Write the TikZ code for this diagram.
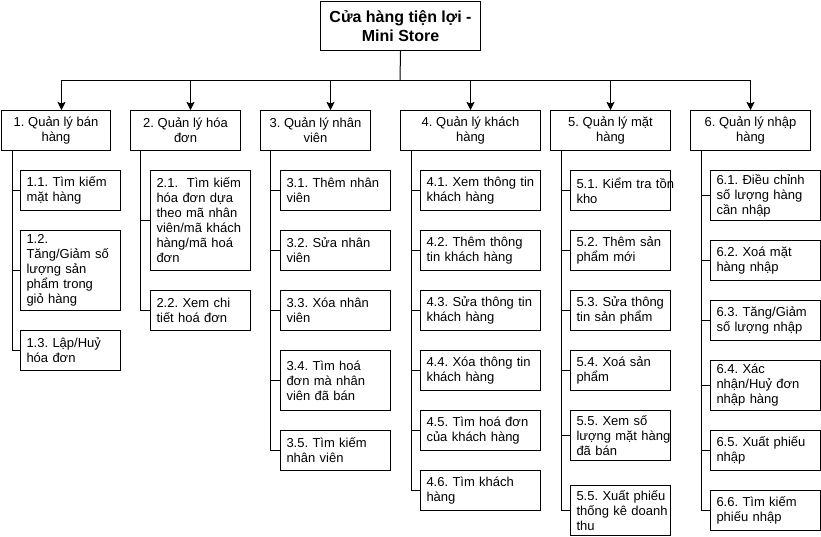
\documentclass[tikz,border=0pt]{standalone}
\usepackage{fontspec}
\setmainfont{Liberation Sans}
\frenchspacing
\usetikzlibrary{arrows.meta}
\begin{document}
\begin{tikzpicture}[x=1pt,y=-1pt,
  bx/.style={draw=black, line width=1pt, fill=white, anchor=north west, inner sep=0pt},
  rootbox/.style={bx, align=center, font=\frenchspacing\bfseries\fontsize{16}{18.5}\selectfont},
  topbox/.style={bx, align=center, minimum height=40pt, font=\frenchspacing\fontsize{13}{15}\selectfont},
  cbox/.style={bx, align=left, inner xsep=6pt, inner ysep=0pt, font=\frenchspacing\fontsize{13}{15}\selectfont},
  wa/.style={text width=88pt},
  wb/.style={text width=98pt},
  wc/.style={text width=108pt},
  conn/.style={draw=black, line width=1pt},
  arr/.style={conn, -{Stealth[length=8pt,width=8pt,inset=1.5pt]}}
]
\useasboundingbox (0,0) rectangle (821,536);

% root
\node[rootbox, minimum width=160pt, minimum height=49pt] (root) at (320,1) {Cửa hàng tiện lợi -\\Mini Store};

% level 1
\node[topbox, minimum width=109pt] (b1) at (1,110) {1. Quản lý bán\\hàng};
\node[topbox, minimum width=110pt] (b2) at (130,110) {2. Quản lý hóa\\đơn};
\node[topbox, minimum width=110pt] (b3) at (260,110) {3. Quản lý nhân\\viên};
\node[topbox, minimum width=140pt] (b4) at (400,110) {4. Quản lý khách\\hàng};
\node[topbox, minimum width=120pt] (b5) at (550,110) {5. Quản lý mặt\\hàng};
\node[topbox, minimum width=120pt] (b6) at (690,110) {6. Quản lý nhập\\hàng};

\coordinate (bus) at (400,80);
\draw[conn] (root.south) -- (bus);
\draw[arr] (bus) -| ([xshift=5.5pt]b1.north);
\draw[arr] (bus) -| ([xshift=5pt]b2.north);
\draw[arr] (bus) -| ([xshift=15pt]b3.north);
\draw[arr] (bus) -| (b4.north);
\draw[arr] (bus) -| (b5.north);
\draw[arr] (bus) -| (b6.north);

% column 1
\node[cbox, wa, minimum height=40pt] (n11) at (20,170) {\mbox{1.1. Tìm kiếm}\\mặt hàng};
\node[cbox, wa, minimum height=80pt] (n12) at (20,230) {1.2.\\\mbox{Tăng/Giảm số}\\lượng sản\\phẩm trong\\giỏ hàng};
\node[cbox, wa, minimum height=40pt] (n13) at (20,330) {\mbox{1.3. Lập/Huỷ}\\hóa đơn};

% column 2
\node[cbox, wa, minimum height=100pt] (n21) at (150,170) {\mbox{2.1.\ \ Tìm kiếm}\\\mbox{hóa đơn dựa}\\\mbox{theo mã nhân}\\\mbox{viên/mã khách}\\\mbox{hàng/mã hoá}\\đơn};
\node[cbox, wa, minimum height=40pt] (n22) at (150,290) {\mbox{2.2. Xem chi}\\\mbox{tiết hoá đơn}};

% column 3
\node[cbox, wb, minimum height=40pt] (n31) at (280,170) {\mbox{3.1. Thêm nhân}\\viên};
\node[cbox, wb, minimum height=40pt] (n32) at (280,230) {\mbox{3.2. Sửa nhân}\\viên};
\node[cbox, wb, minimum height=40pt] (n33) at (280,290) {\mbox{3.3. Xóa nhân}\\viên};
\node[cbox, wb, minimum height=60pt] (n34) at (280,350) {\mbox{3.4. Tìm hoá}\\\mbox{đơn mà nhân}\\\mbox{viên đã bán}};
\node[cbox, wb, minimum height=40pt] (n35) at (280,430) {\mbox{3.5. Tìm kiếm}\\nhân viên};

% column 4
\node[cbox, wc, minimum height=40pt] (n41) at (420,170) {\mbox{4.1. Xem thông tin}\\khách hàng};
\node[cbox, wc, minimum height=40pt] (n42) at (420,230) {\mbox{4.2. Thêm thông}\\\mbox{tin khách hàng}};
\node[cbox, wc, minimum height=40pt] (n43) at (420,290) {\mbox{4.3. Sửa thông tin}\\khách hàng};
\node[cbox, wc, minimum height=40pt] (n44) at (420,350) {\mbox{4.4. Xóa thông tin}\\khách hàng};
\node[cbox, wc, minimum height=40pt] (n45) at (420,410) {\mbox{4.5. Tìm hoá đơn}\\\mbox{của khách hàng}};
\node[cbox, wc, minimum height=40pt] (n46) at (420,470) {\mbox{4.6. Tìm khách}\\hàng};

% column 5
\node[cbox, wa, minimum height=40pt] (n51) at (570,170) {\mbox{5.1. Kiểm tra tồn}\\kho};
\node[cbox, wa, minimum height=40pt] (n52) at (570,230) {\mbox{5.2. Thêm sản}\\phẩm mới};
\node[cbox, wa, minimum height=40pt] (n53) at (570,290) {\mbox{5.3. Sửa thông}\\\mbox{tin sản phẩm}};
\node[cbox, wa, minimum height=40pt] (n54) at (570,350) {\mbox{5.4. Xoá sản}\\phẩm};
\node[cbox, wa, minimum height=50pt] (n55) at (570,410) {\mbox{5.5. Xem số}\\\mbox{lượng mặt hàng}\\đã bán};
\node[cbox, wa, minimum height=50pt] (n56) at (570,485) {\mbox{5.5. Xuất phiếu}\\\mbox{thống kê doanh}\\thu};

% column 6
\node[cbox, wb, minimum height=50pt] (n61) at (710,170) {\mbox{6.1. Điều chỉnh}\\\mbox{số lượng hàng}\\cần nhập};
\node[cbox, wb, minimum height=40pt] (n62) at (710,240) {\mbox{6.2. Xoá mặt}\\hàng nhập};
\node[cbox, wb, minimum height=40pt] (n63) at (710,300) {\mbox{6.3. Tăng/Giảm}\\\mbox{số lượng nhập}};
\node[cbox, wb, minimum height=50pt] (n64) at (710,360) {6.4. Xác\\\mbox{nhận/Huỷ đơn}\\nhập hàng};
\node[cbox, wb, minimum height=40pt] (n65) at (710,430) {\mbox{6.5. Xuất phiếu}\\nhập};
\node[cbox, wb, minimum height=40pt] (n66) at (710,490) {\mbox{6.6. Tìm kiếm}\\phiếu nhập};

% child connectors
\foreach \c in {n11,n12,n13} \draw[conn] ([xshift=11pt]b1.south west) |- (\c.west);
\foreach \c in {n21,n22} \draw[conn] ([xshift=10pt]b2.south west) |- (\c.west);
\foreach \c in {n31,n32,n33,n34,n35} \draw[conn] ([xshift=10pt]b3.south west) |- (\c.west);
\foreach \c in {n41,n42,n43,n44,n45,n46} \draw[conn] ([xshift=11pt]b4.south west) |- (\c.west);
\foreach \c in {n51,n52,n53,n54,n55,n56} \draw[conn] ([xshift=11pt]b5.south west) |- (\c.west);
\foreach \c in {n61,n62,n63,n64,n65,n66} \draw[conn] ([xshift=11pt]b6.south west) |- (\c.west);
\end{tikzpicture}
\end{document}
